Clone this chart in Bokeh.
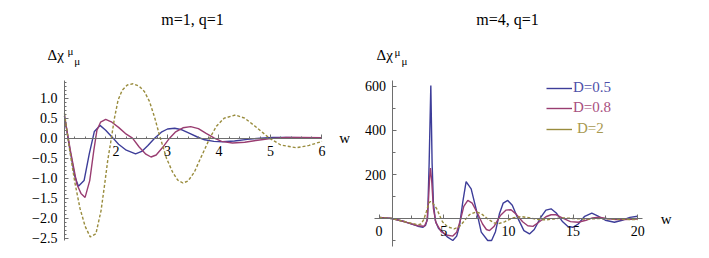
import math
from bokeh.plotting import figure
from bokeh.models import (Range1d, LinearAxis, FixedTicker, Label, Legend, LegendItem,
                          CustomJSTickFormatter)
from bokeh.layouts import row
from bokeh.embed import file_html
from bokeh.resources import INLINE

# ---------------- data: left panel (m=1, q=1) ----------------
w1_d05 = [1.00, 1.10, 1.20, 1.27, 1.38, 1.48, 1.58, 1.69, 1.80, 1.93, 2.05, 2.20, 2.38, 2.50,
          2.62, 2.75, 2.88, 3.00, 3.14, 3.28, 3.43, 3.58, 3.72, 3.90, 4.07, 4.30, 4.55, 4.80,
          5.05, 5.30, 5.60, 6.00]
chi1_d05 = [0.55, -0.25, -0.95, -1.20, -1.06, -0.40, 0.17, 0.32, 0.20, 0.02, -0.15, -0.30, -0.39,
            -0.33, -0.18, 0.00, 0.15, 0.23, 0.25, 0.21, 0.12, 0.03, -0.04, -0.08, -0.09, -0.07,
            -0.03, 0.00, 0.02, 0.02, 0.01, 0.00]

w1_d08 = [1.00, 1.12, 1.24, 1.32, 1.40, 1.49, 1.57, 1.63, 1.70, 1.80, 1.92, 2.05, 2.20, 2.32,
          2.45, 2.58, 2.68, 2.78, 2.90, 3.04, 3.15, 3.30, 3.45, 3.60, 3.75, 3.91, 4.05, 4.26,
          4.50, 4.75, 5.00, 5.30, 5.60, 6.00]
chi1_d08 = [0.55, -0.35, -1.15, -1.38, -1.48, -1.06, -0.30, 0.20, 0.40, 0.47, 0.40, 0.27, 0.10,
            0.00, -0.22, -0.40, -0.47, -0.42, -0.24, 0.00, 0.15, 0.26, 0.29, 0.24, 0.12, 0.00,
            -0.08, -0.12, -0.10, -0.05, -0.01, 0.02, 0.02, 0.01]

w1_d2 = [1.00, 1.10, 1.20, 1.30, 1.40, 1.50, 1.61, 1.71, 1.78, 1.84, 1.91, 1.97, 2.04, 2.12,
         2.22, 2.33, 2.45, 2.55, 2.65, 2.75, 2.85, 2.98, 3.10, 3.20, 3.30, 3.40, 3.52, 3.65,
         3.82, 3.95, 4.10, 4.32, 4.50, 4.70, 4.98, 5.20, 5.50, 5.75, 6.00]
chi1_d2 = [0.62, -0.30, -1.10, -1.75, -2.20, -2.47, -2.39, -1.81, -1.15, -0.55, 0.00, 0.50,
           0.95, 1.20, 1.33, 1.36, 1.30, 1.17, 0.92, 0.52, 0.05, -0.50, -0.85, -1.05, -1.12,
           -1.07, -0.85, -0.48, 0.00, 0.30, 0.50, 0.58, 0.50, 0.30, 0.00, -0.17, -0.24, -0.18,
           -0.08]

# ---------------- data: right panel (m=4, q=1) ----------------
w4_d05 = [0.0, 1.0, 2.0, 3.0, 3.4, 3.6, 3.75, 3.87, 4.0, 4.1, 4.2, 4.35, 4.6, 4.93, 5.3, 5.7,
          6.0, 6.22, 6.47, 6.73, 7.12, 7.5, 7.9, 8.4, 8.7, 9.0, 9.3, 9.6, 9.95, 10.3, 10.7, 11.2,
          11.63, 12.0, 12.5, 12.9, 13.3, 13.7, 14.2, 14.6, 14.98, 15.4, 15.9, 16.45, 16.9, 17.5,
          18.2, 18.8, 19.4, 20.0]
chi4_d05 = [5, 0, -15, -35, -40, -30, 0, 250, 605, 250, 70, -10, -45, -62, -85, -100,
            -80, -32, 74, 168, 135, 44, -62, -100, -100, -60, 20, 70, 82, 60, 5, -55,
            -70, -50, 5, 38, 44, 25, -15, -36, -40, -25, 10, 24, 12, -8,
            -17, -8, 5, 10]

w4_d08 = [0.0, 1.0, 2.0, 3.0, 3.5, 3.7, 3.8, 3.9, 3.97, 4.07, 4.2, 4.4, 4.8, 5.2, 5.7, 6.0,
          6.3, 6.55, 6.86, 7.2, 7.6, 8.0, 8.3, 8.54, 8.9, 9.4, 9.8, 10.2, 10.6, 11.1, 11.5,
          11.9, 12.4, 12.9, 13.3, 13.7, 14.2, 14.8, 15.4, 16.0, 16.5, 17.0, 17.6, 18.3, 19.0,
          20.0]
chi4_d08 = [5, 0, -15, -33, -35, -10, 60, 180, 229, 170, 45, -20, -60, -75, -80, -62,
            -5, 55, 82, 70, 25, -25, -50, -55, -35, 15, 38, 40, 20, -15, -33,
            -36, -15, 8, 17, 17, 2, -14, -17, -8, 3, 6, 0, -5, -5,
            -3]

w4_d2 = [0.0, 1.0, 2.0, 3.0, 3.25, 3.45, 3.65, 3.85, 3.97, 4.15, 4.45, 4.9, 5.3, 5.8, 6.2,
         6.6, 7.0, 7.5, 7.9, 8.4, 8.9, 9.2, 9.7, 10.3, 11.0, 11.7, 12.3, 12.9, 13.5, 14.2,
         15.0, 16.0, 17.0, 18.0, 19.0, 20.0]
chi4_d2 = [5, 0, -15, -28, -25, -5, 30, 70, 77, 70, 45, -15, -38, -47, -38,
           -10, 18, 30, 22, -2, -20, -24, -15, 2, 9, 2, -5, -6, -2, 3,
           0, -3, 0, -2, -4, -5]

series_labels = ["D=0.5", "D=0.8", "D=2"]
titles = ["m=1, q=1", "m=4, q=1"]

left_xticks = [2, 3, 4, 5, 6]
left_yticks = [-2.5, -2.0, -1.5, -1.0, -0.5, 0.0, 0.5, 1.0]
right_xticks = [0, 5, 10, 15, 20]
right_yticks = [200, 400, 600]

# ---------------- style ----------------
BLUE = "#3d3d99"
MAGENTA = "#993d71"
GOLD = "#998c3d"
TXT_BLUE = "#4f4fa8"
TXT_MAG = "#a84f80"
TXT_GOLD = "#a8994f"
AXIS = "#6e6e6e"
SERIF = "Liberation Serif"

minus_fmt1 = CustomJSTickFormatter(code="return tick.toFixed(1).replace('-', '\u2212');")
minus_fmt0 = CustomJSTickFormatter(code="return tick.toFixed(0).replace('-', '\u2212');")


def style_axis(ax, major_in=4, minor_in=2, standoff=7):
    ax.axis_line_color = AXIS
    ax.major_tick_line_color = AXIS
    ax.minor_tick_line_color = AXIS
    ax.major_tick_in = major_in
    ax.major_tick_out = 0
    ax.minor_tick_in = minor_in
    ax.minor_tick_out = 0
    ax.major_label_text_font = SERIF
    ax.major_label_text_font_size = "14px"
    ax.major_label_text_color = "black"
    ax.major_label_standoff = standoff


def base_fig(xr, yr, w, h):
    p = figure(width=w, height=h, x_range=Range1d(*xr), y_range=Range1d(*yr),
               output_backend="svg", toolbar_location=None,
               x_axis_location=None, y_axis_location=None,
               min_border=0)
    p.grid.visible = False
    p.outline_line_color = None
    p.background_fill_color = "white"
    p.border_fill_color = "white"
    return p


def add_text(p, x, y, text, size, align="left", baseline="alphabetic", color="black"):
    p.add_layout(Label(x=x, y=y, text=text, text_font=SERIF, text_font_size=size,
                       text_align=align, text_baseline=baseline, text_color=color))


# ---------------- left panel ----------------
p1 = base_fig((-0.2427, 6.5534), (-2.8075, 3.4425), 350, 250)
xa1 = LinearAxis(fixed_location=0, bounds=(1.0, 6.0),
                 ticker=FixedTicker(ticks=left_xticks,
                                    minor_ticks=[round(1.2 + 0.2 * i, 2) for i in range(25)]))
style_axis(xa1, standoff=8)
p1.add_layout(xa1, "below")
ya1 = LinearAxis(fixed_location=1.0, bounds=(-2.56, 1.44),
                 ticker=FixedTicker(ticks=left_yticks,
                                    minor_ticks=[round(-2.5 + 0.1 * i, 2) for i in range(40)]),
                 formatter=minus_fmt1)
style_axis(ya1, standoff=7)
p1.add_layout(ya1, "left")

p1.line(w1_d05, chi1_d05, line_color=BLUE, line_width=1.4)
p1.line(w1_d08, chi1_d08, line_color=MAGENTA, line_width=1.4)
p1.line(w1_d2, chi1_d2, line_color=GOLD, line_width=1.4, line_dash="3 2")

add_text(p1, 3.485, 2.97, titles[0], "16px", align="center", baseline="middle")
add_text(p1, 0.67, 2.07, "Δχ", "15px")
add_text(p1, 1.058, 2.17, "μ", "11px")
add_text(p1, 1.19, 1.94, "μ", "11px")
add_text(p1, 6.44, 0.0, "w", "15px", align="center", baseline="middle")

# ---------------- right panel ----------------
p2 = base_fig((-2.212, 24.857), (-145.45, 990.9), 350, 250)
xa2 = LinearAxis(fixed_location=0, bounds=(-0.356, 20.37),
                 ticker=FixedTicker(ticks=right_xticks,
                                    minor_ticks=[2.5, 7.5, 12.5, 17.5]))
style_axis(xa2, major_in=4, minor_in=3, standoff=7)
p2.add_layout(xa2, "below")
ya2 = LinearAxis(fixed_location=1.0, bounds=(-127, 627),
                 ticker=FixedTicker(ticks=right_yticks, minor_ticks=[-100, 100, 300, 500]),
                 formatter=minus_fmt0)
style_axis(ya2, major_in=4, minor_in=3, standoff=6)
p2.add_layout(ya2, "left")

r1 = p2.line(w4_d05, chi4_d05, line_color=BLUE, line_width=1.4)
r2 = p2.line(w4_d08, chi4_d08, line_color=MAGENTA, line_width=1.4)
r3 = p2.line(w4_d2, chi4_d2, line_color=GOLD, line_width=1.4, line_dash="3 2")
# solid, invisible proxy (a single NaN point) for the legend key of the dashed series
r3_key = p2.line([math.nan], [math.nan], line_color=GOLD, line_width=1.4)

add_text(p2, 9.93, 904.5, titles[1], "16px", align="center", baseline="middle")
add_text(p2, -0.2, 741, "Δχ", "15px")
add_text(p2, 1.19, 759, "μ", "11px")
add_text(p2, 1.73, 718, "μ", "11px")
add_text(p2, 22.2, 0, "w", "15px", align="center", baseline="middle")

for (rend, lab, col, ly, so) in [(r1, series_labels[0], TXT_BLUE, 154, 1),
                                 (r2, series_labels[1], TXT_MAG, 134, 1),
                                 (r3_key, series_labels[2], TXT_GOLD, 113, 5)]:
    lg = Legend(items=[LegendItem(label=lab, renderers=[rend])], location=(196, ly),
                glyph_width=26, glyph_height=16, label_height=16, label_standoff=so,
                padding=0, margin=0, spacing=0, border_line_color=None,
                background_fill_alpha=0, label_text_font=SERIF,
                label_text_font_size="15px", label_text_color=col)
    p2.add_layout(lg, "center")

layout = row(p1, p2)
open("out.html", "w").write(file_html(layout, INLINE))
